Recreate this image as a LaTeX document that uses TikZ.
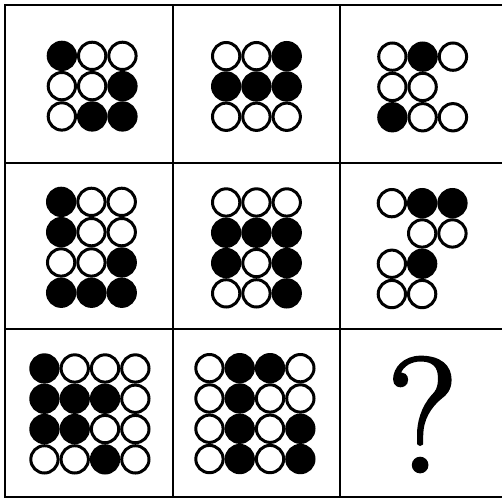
\documentclass[tikz,border=0pt]{standalone}
\usepackage{fontspec}
\newfontfamily\qfont[FakeBold=2]{Latin Modern Roman}
\begin{document}
\begin{tikzpicture}[x=1pt,y=-1pt,
  gridline/.style={line width=2pt,draw=black},
  wb/.style={line width=3pt,draw=black,fill=white},
  bb/.style={line width=3pt,draw=black,fill=black}]
\useasboundingbox (0,0) rectangle (502,498);
\fill[white] (0,0) rectangle (502,498);
\begin{scope}
\clip (0,0) rectangle (502,498);
% grid
\draw[gridline] (5,5) -- (510,5);
\draw[gridline] (5,162.5) -- (510,162.5);
\draw[gridline] (5,329) -- (510,329);
\draw[gridline] (5,497) -- (510,497);
\draw[gridline] (5,4) -- (5,498);
\draw[gridline] (172.5,4) -- (172.5,498);
\draw[gridline] (339.5,4) -- (339.5,498);
\end{scope}
\newcommand\ballset[3]{%
  \foreach \c/\r/\f in {#3} {%
    \draw[\f] ({#1+15.15+\c*30.3},{#2+15.15+\r*30.3}) circle[radius=13.65];
  }%
}
% row 1
\ballset{46.7}{40.7}{0/0/bb,1/0/wb,2/0/wb,0/1/wb,1/1/wb,2/1/bb,0/2/wb,1/2/bb,2/2/bb}
\ballset{211}{41}{0/0/wb,1/0/wb,2/0/bb,0/1/bb,1/1/bb,2/1/bb,0/2/wb,1/2/wb,2/2/wb}
\ballset{377.2}{41.5}{0/0/wb,1/0/bb,2/0/wb,0/1/wb,1/1/wb,0/2/bb,1/2/wb,2/2/wb}
% row 2
\ballset{46}{186.7}{0/0/bb,1/0/wb,2/0/wb,0/1/bb,1/1/wb,2/1/wb,0/2/wb,1/2/wb,2/2/bb,0/3/bb,1/3/bb,2/3/bb}
\ballset{211}{187.3}{0/0/wb,1/0/wb,2/0/wb,0/1/bb,1/1/bb,2/1/bb,0/2/bb,1/2/wb,2/2/bb,0/3/wb,1/3/wb,2/3/bb}
\ballset{376.7}{188}{0/0/wb,1/0/bb,2/0/bb,1/1/wb,2/1/wb,0/2/wb,1/2/bb,0/3/wb,1/3/wb}
% row 3
\ballset{29.3}{353.3}{0/0/bb,1/0/wb,2/0/wb,3/0/wb,0/1/bb,1/1/bb,2/1/bb,3/1/wb,0/2/bb,1/2/bb,2/2/wb,3/2/wb,0/3/wb,1/3/wb,2/3/bb,3/3/wb}
\ballset{194.3}{353}{0/0/wb,1/0/bb,2/0/bb,3/0/wb,0/1/wb,1/1/bb,2/1/wb,3/1/wb,0/2/wb,1/2/bb,2/2/wb,3/2/bb,0/3/wb,1/3/bb,2/3/wb,3/3/bb}
\node[inner sep=0pt,anchor=base,font=\qfont\fontsize{163}{163}\selectfont] (q) at (422.5,471.7) {?};
\end{tikzpicture}
\end{document}
